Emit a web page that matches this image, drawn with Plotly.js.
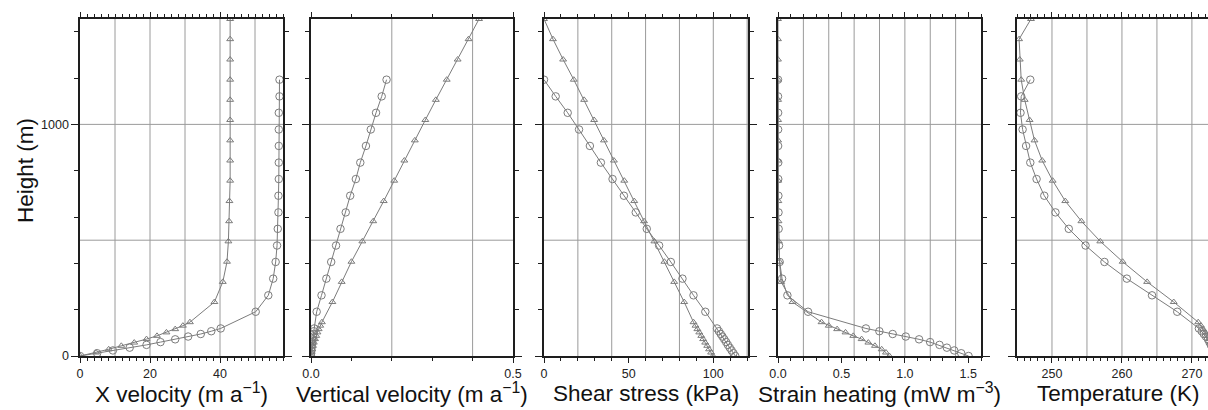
<!DOCTYPE html>
<html>
<head>
<meta charset="utf-8">
<script src="https://cdn.plot.ly/plotly-3.0.1.min.js"></script>
<style>
  html, body { margin: 0; padding: 0; background: #fff; }
  #chart { width: 1208px; height: 410px; }
</style>
</head>
<body>
<div id="chart"></div>
<script>
// Model level heights above the bed (m) for the two ice columns
const heightsCircle = [0, 12, 24, 36, 48, 60, 72, 84, 95, 107, 119,
  191, 262, 334, 406, 477, 549, 620, 692, 764, 835, 907, 978, 1050, 1121, 1193];
const heightsTriangle = [0, 15, 29, 44, 58, 73, 87, 102, 116, 131, 146,
  233, 320, 407, 495, 582, 669, 757, 844, 931, 1019, 1106, 1193, 1280, 1368, 1455];

// X velocity (m a-1)
const xVelCircle = [0, 4.9, 9.4, 14.2, 19.0, 23.0, 27.2, 30.9, 34.5, 37.5, 40.2,
  50.2, 53.8, 55.2, 55.9, 56.3, 56.5, 56.7, 56.7, 56.8, 56.8, 56.8, 56.8, 56.8, 57.0, 57.0];
const xVelTriangle = [0, 4.6, 8.2, 11.8, 15.5, 19.0, 22.0, 24.7, 27.2, 29.4, 31.4,
  38.4, 40.8, 42.0, 42.4, 42.6, 42.7, 42.9, 42.9, 42.9, 42.9, 42.9, 42.9, 42.9, 42.9, 42.9];

// Vertical velocity (m a-1)
const zVelCircle = [0, 0.0005, 0.001, 0.0015, 0.002, 0.003, 0.004, 0.005, 0.006, 0.007, 0.008,
  0.014, 0.026, 0.038, 0.050, 0.062, 0.073, 0.086, 0.097, 0.111, 0.122, 0.136, 0.148, 0.161, 0.175, 0.187];
const zVelTriangle = [0, 0.001, 0.003, 0.005, 0.007, 0.010, 0.013, 0.016, 0.019, 0.023, 0.027,
  0.053, 0.076, 0.100, 0.127, 0.154, 0.180, 0.206, 0.231, 0.257, 0.283, 0.309, 0.336, 0.363, 0.390, 0.416];

// Shear stress (kPa)
const shearCircle = [113.0, 111.9, 110.8, 109.7, 108.6, 107.6, 106.5, 105.4, 104.4, 103.3, 102.2,
  95.3, 88.3, 81.8, 74.9, 68.0, 60.7, 54.2, 47.2, 40.5, 33.6, 27.1, 20.7, 14.0, 6.9, 0];
const shearTriangle = [99.8, 98.7, 97.5, 96.4, 95.2, 94.0, 92.9, 91.7, 90.6, 89.5, 88.3,
  82.8, 76.9, 71.1, 65.2, 59.1, 53.3, 47.4, 41.3, 35.4, 29.6, 23.7, 17.6, 11.3, 5.3, 0];

// Strain heating (mW m-3)
const heatCircle = [1.502, 1.444, 1.389, 1.331, 1.273, 1.199, 1.112, 1.007, 0.904, 0.799, 0.693,
  0.237, 0.074, 0.032, 0.013, 0.008, 0.005, 0.004, 0.003, 0.002, 0.002, 0.001, 0.001, 0.001, 0, 0];
const heatTriangle = [0.878, 0.851, 0.817, 0.764, 0.712, 0.659, 0.593, 0.532, 0.466, 0.400, 0.343,
  0.114, 0.025, 0.012, 0.006, 0.004, 0.003, 0.002, 0.002, 0.001, 0.001, 0.001, 0, 0, 0, 0];

// Temperature (K)
const tempCircle = [273.4, 273.3, 273.1, 272.9, 272.7, 272.5, 272.3, 272.0, 271.7, 271.4, 271.0,
  267.9, 264.3, 260.7, 257.5, 254.8, 252.4, 250.5, 248.9, 247.8, 246.9, 246.3, 245.8, 245.5, 245.6, 246.9];
const tempTriangle = [273.3, 273.2, 273.0, 272.8, 272.6, 272.4, 272.1, 271.9, 271.6, 271.3, 270.9,
  267.4, 263.6, 260.1, 256.9, 254.2, 251.9, 250.1, 248.6, 247.5, 246.8, 246.1, 245.6, 245.4, 245.3, 247.0];

// Axis titles and tick labels
const panelTitles = [
  'X velocity (m a<sup>\u22121</sup>)',
  'Vertical velocity (m a<sup>\u22121</sup>)',
  'Shear stress (kPa)',
  'Strain heating (mW m<sup>\u22123</sup>)',
  'Temperature (K)'
];
const xLabelValues = [[0, 20, 40], [0, 0.5], [0, 50, 100], [0, 0.5, 1.0, 1.5], [250, 260, 270]];
const xLabelTexts = [['0', '20', '40'], ['0.0', '0.5'], ['0', '50', '100'], ['0.0', '0.5', '1.0', '1.5'], ['250', '260', '270']];
const heightLabelValues = [0, 1000];
const heightLabelTexts = ['0', '1000'];
const heightTitle = 'Height (m)';

// Per-panel axis settings: range, grid spacing, fine tick spacing, pixel extent
const panelSpec = [
  { range: [0, 58],      grid: 10,  tick: 2,   px: [80, 283] },
  { range: [0, 0.5],     grid: 0.2, tick: 0.1, px: [311, 513] },
  { range: [0, 120.5],   grid: 20,  tick: 10,  px: [544, 748] },
  { range: [0, 1.6],     grid: 0.2, tick: 0.1, px: [778, 981] },
  { range: [245, 272.3], grid: 5,   tick: 1,   px: [1017, 1208] }
];
const seriesCircle = [xVelCircle, zVelCircle, shearCircle, heatCircle, tempCircle];
const seriesTriangle = [xVelTriangle, zVelTriangle, shearTriangle, heatTriangle, tempTriangle];

const W = 1208, H = 410;
const plotTop = 19, plotBottom = 356;
const yRange = [0, 1455];
const yGridStep = 500, yTickStep = 200;

const frameColor = '#1e1e1e';
const gridColor = '#9a9a9a';
const markColor = '#7c7c7c';
const fontFamily = '"Liberation Sans", Arial, Helvetica, sans-serif';
const tickFont = { size: 12.5, color: '#222', family: fontFamily };

// grid positions strictly inside an axis range
function gridValues(lo, hi, step) {
  const out = [];
  for (let k = Math.floor(lo / step) + 1; k * step < hi - 1e-9; k++) {
    out.push(+(k * step).toFixed(6));
  }
  return out;
}

const traces = [];
const layout = {
  width: W, height: H,
  margin: { l: 0, r: 0, t: 0, b: 0 },
  paper_bgcolor: '#ffffff',
  plot_bgcolor: '#ffffff',
  showlegend: false,
  font: { family: fontFamily, color: '#111' },
  annotations: [],
  shapes: []
};

const yDomain = [1 - plotBottom / H, 1 - plotTop / H];
const nPanels = panelSpec.length;
const gridLine = { color: gridColor, width: 1 };

panelSpec.forEach((p, i) => {
  const n = i === 0 ? '' : String(i + 1);
  const xRef = 'x' + n, yRef = 'y' + n;

  const common = {
    mode: 'lines+markers',
    xaxis: xRef, yaxis: yRef,
    line: { color: markColor, width: 1 },
    hoverinfo: 'skip'
  };
  traces.push(Object.assign({}, common, {
    x: seriesTriangle[i], y: heightsTriangle,
    marker: { symbol: 'triangle-up-open', size: 6, color: markColor, line: { color: markColor, width: 1 } }
  }));
  traces.push(Object.assign({}, common, {
    x: seriesCircle[i], y: heightsCircle,
    marker: { symbol: 'circle-open', size: 7.5, color: markColor, line: { color: markColor, width: 1 } }
  }));

  // framed x axis: labelled major ticks, fine minor ticks
  layout['xaxis' + n] = {
    domain: [p.px[0] / W, p.px[1] / W],
    range: p.range,
    anchor: yRef,
    tickmode: 'array', tickvals: xLabelValues[i], ticktext: xLabelTexts[i],
    ticks: 'outside', ticklen: 5, tickwidth: 1, tickcolor: frameColor,
    tickfont: tickFont, ticklabelstandoff: 0,
    showgrid: false, zeroline: false,
    showline: true, linecolor: frameColor, linewidth: 1.6, mirror: 'ticks',
    minor: { tickmode: 'linear', tick0: 0, dtick: p.tick, ticks: 'outside', ticklen: 3,
             tickwidth: 1, tickcolor: frameColor, showgrid: false },
    fixedrange: true
  };

  layout['yaxis' + n] = {
    domain: yDomain,
    range: yRange,
    anchor: xRef,
    tickmode: 'array',
    tickvals: heightLabelValues,
    ticktext: heightLabelTexts,
    showticklabels: i === 0,
    ticks: 'outside', ticklen: 7, tickwidth: 1, tickcolor: frameColor,
    tickfont: tickFont,
    showgrid: false, zeroline: false,
    showline: true, linecolor: frameColor, linewidth: 1.6,
    mirror: i === nPanels - 1 ? false : 'ticks',
    minor: { tickmode: 'linear', tick0: 0, dtick: yTickStep, ticks: 'outside', ticklen: 4,
             tickwidth: 1, tickcolor: frameColor, showgrid: false },
    fixedrange: true
  };

  // grid lines in data coordinates, behind the profiles
  gridValues(p.range[0], p.range[1], p.grid).forEach(v => {
    layout.shapes.push({
      type: 'line', layer: 'below', xref: xRef, yref: yRef + ' domain',
      x0: v, x1: v, y0: 0, y1: 1, line: gridLine
    });
  });
  gridValues(yRange[0], yRange[1], yGridStep).forEach(v => {
    layout.shapes.push({
      type: 'line', layer: 'below', xref: xRef + ' domain', yref: yRef,
      x0: 0, x1: 1, y0: v, y1: v, line: gridLine
    });
  });

  const right = i === nPanels - 1 ? p.px[0] + 203 : p.px[1];
  layout.annotations.push({
    xref: 'paper', yref: 'paper',
    x: (p.px[0] + right) / 2 / W,
    y: 1 - 393 / H,
    xanchor: 'center', yanchor: 'middle',
    text: panelTitles[i], showarrow: false,
    font: { size: 22.5, color: '#111', family: fontFamily }
  });
});

layout.annotations.push({
  xref: 'paper', yref: 'paper',
  x: 26 / W, y: 1 - 171 / H,
  xanchor: 'center', yanchor: 'middle',
  text: heightTitle, textangle: -90, showarrow: false,
  font: { size: 22.5, color: '#111', family: fontFamily }
});

Plotly.newPlot('chart', traces, layout, { displayModeBar: false, staticPlot: true });
</script>
</body>
</html>
